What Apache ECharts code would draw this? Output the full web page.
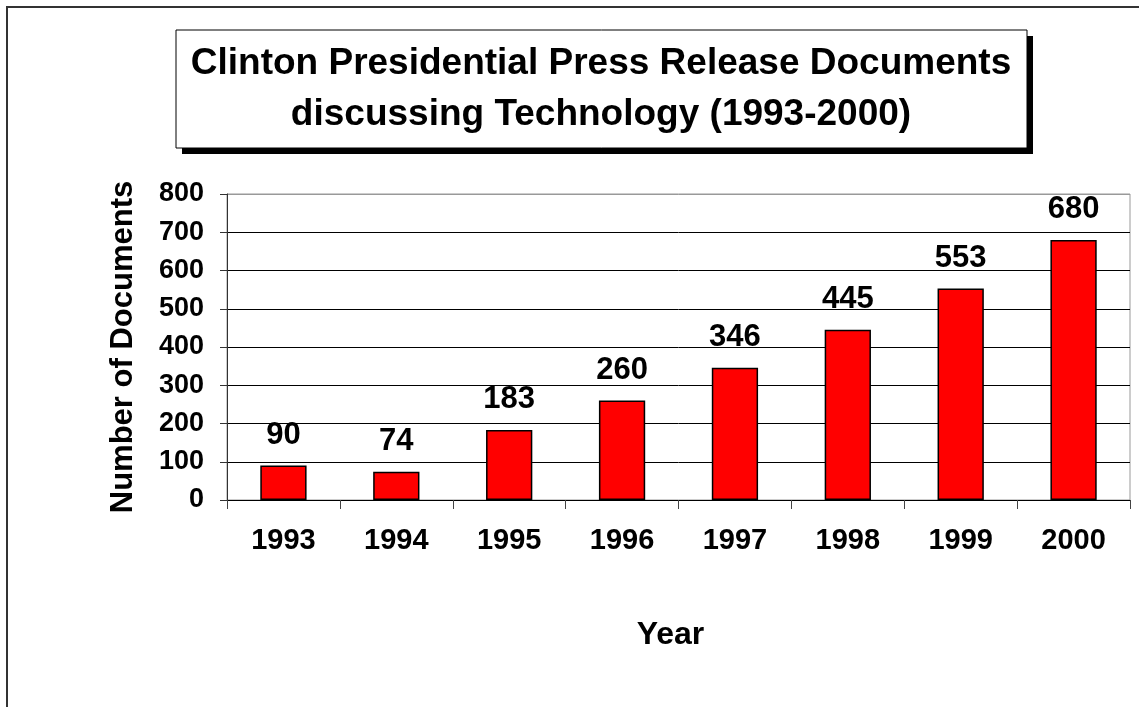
<!DOCTYPE html>
<html><head><meta charset="utf-8">
<script src="https://cdn.jsdelivr.net/npm/echarts@6/dist/echarts.min.js"></script>
<style>html,body{margin:0;padding:0;background:#fff;}#c{width:1139px;height:707px;}</style>
</head><body><div id="c"></div>
<script>
const years = ['1993','1994','1995','1996','1997','1998','1999','2000'];
const docs = [90, 74, 183, 260, 346, 445, 553, 680];
const titleText = 'Clinton Presidential Press Release Documents\ndiscussing Technology (1993-2000)';
const yName = 'Number of Documents';
const xName = 'Year';

const font = 'Arial, "Liberation Sans", sans-serif';
const chart = echarts.init(document.getElementById('c'), null, {renderer:'canvas'});
chart.setOption({
  animation: false,
  backgroundColor: '#fff',
  graphic: [
    {type:'rect', shape:{x:7, y:7, width:1300, height:900}, style:{fill:'none', stroke:'#333', lineWidth:2}, z:0},
    {type:'rect', shape:{x:182, y:36, width:851, height:118}, style:{fill:'#000'}, z:1},
    {type:'rect', shape:{x:176, y:30, width:851, height:118}, style:{fill:'#fff', stroke:'#000', lineWidth:1}, z:2},
    {type:'text', x:601, y:89, z:3, style:{text:titleText, fill:'#000', font:'bold 37px ' + font, textAlign:'center', textVerticalAlign:'middle', lineHeight:51}}
  ],
  grid: {left:227, right:9, top:194, bottom:207, show:true, borderColor:'#999', borderWidth:1},
  xAxis: {
    type:'category', data: years,
    name: xName, nameLocation:'middle', nameGap: 119,
    nameTextStyle:{fontFamily:font, fontWeight:'bold', fontSize:32, color:'#000', padding:[0,16,0,0]},
    axisLine:{lineStyle:{color:'#000', width:1}},
    axisTick:{show:true, alignWithLabel:false, length:9, lineStyle:{color:'#444'}},
    axisLabel:{fontFamily:font, fontWeight:'bold', fontSize:29, color:'#000', margin:26}
  },
  yAxis: {
    type:'value', min:0, max:800, interval:100,
    name: yName, nameLocation:'middle', nameGap: 88, nameRotate: 90,
    nameTextStyle:{fontFamily:font, fontWeight:'bold', fontSize:31, color:'#000'},
    axisLine:{show:true, lineStyle:{color:'#333', width:1}},
    axisTick:{show:true, length:7, lineStyle:{color:'#333'}},
    axisLabel:{fontFamily:font, fontWeight:'bold', fontSize:27, color:'#000', margin:23},
    splitLine:{show:true, lineStyle:{color:['#000','#000','#000','#000','#000','#000','#000','#000','#999'], width:1}}
  },
  series: [{
    type:'bar', data: docs, barWidth:'41%',
    itemStyle:{color:'#ff0000', borderColor:'#000', borderWidth:1.5},
    label:{show:true, position:'top', distance:15, fontFamily:font, fontWeight:'bold', fontSize:31, color:'#000'}
  }]
});
</script></body></html>
